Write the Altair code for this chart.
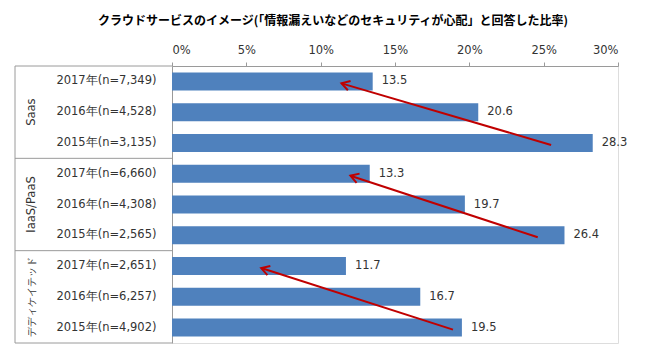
import math
import altair as alt
import pandas as pd

title_text = "クラウドサービスのイメージ(「情報漏えいなどのセキュリティが心配」と回答した比率)"
groups = ["Saas", "IaaS/PaaS", "デディケイテッド"]
rows = [
    "2017年(n=7,349)", "2016年(n=4,528)", "2015年(n=3,135)",
    "2017年(n=6,660)", "2016年(n=4,308)", "2015年(n=2,565)",
    "2017年(n=2,651)", "2016年(n=6,257)", "2015年(n=4,902)",
]
row_group = ["Saas"] * 3 + ["IaaS/PaaS"] * 3 + ["デディケイテッド"] * 3
values = [13.5, 20.6, 28.3, 13.3, 19.7, 26.4, 11.7, 16.7, 19.5]
x_ticks = [0, 5, 10, 15, 20, 25, 30]

# trend arrows (from 2015 to 2017 in each group), in % units
arrow_from_x = [25.5, 24.6, 18.9]
arrow_to_x = [11.4, 12.0, 6.0]
arrow_from_row = [rows[2], rows[5], rows[8]]
arrow_to_row = [rows[0], rows[3], rows[6]]

W, H = 446, 277
XMAX = 30
BAR = "#4F81BD"
RED = "#C00000"
GRAY = "#9A9A9A"
TXT = "#333333"
FONT = "DejaVu Sans"

df = pd.DataFrame({"row": rows, "group": row_group, "value": values})

# arrow angles computed from the data through the pixel scale
px_x = W / XMAX
px_row = H / len(rows)
angles = []
for fx, tx, fr, tr in zip(arrow_from_x, arrow_to_x, arrow_from_row, arrow_to_row):
    dx = (tx - fx) * px_x
    dy = (rows.index(tr) - rows.index(fr)) * px_row
    a = math.degrees(math.atan2(dx, -dy)) % 360
    angles.append(a)
arrows = pd.DataFrame({
    "fx": arrow_from_x, "tx": arrow_to_x,
    "fr": arrow_from_row, "tr": arrow_to_row, "angle": angles,
})

xscale = alt.Scale(domain=[0, XMAX], nice=False, zero=True)
yscale = alt.Scale(domain=rows, paddingInner=0, paddingOuter=0)

base = alt.Chart(df)

bars = base.mark_bar(color=BAR, size=18).encode(
    x=alt.X("value:Q", scale=xscale,
            axis=alt.Axis(orient="top", values=x_ticks, labelExpr="datum.value + '%'",
                          grid=False, tickSize=4, tickColor=GRAY, domainColor=GRAY,
                          labelFont=FONT, labelFontSize=11.5, labelColor=TXT,
                          labelPadding=7, title=None)),
    y=alt.Y("row:N", scale=yscale, sort=None,
            axis=alt.Axis(orient="left", ticks=False, domainColor=GRAY, labelPadding=16,
                          labelFont=FONT, labelFontSize=11.5, labelColor=TXT, title=None)),
)

labels = base.mark_text(align="left", baseline="middle", dx=9, font=FONT,
                        fontSize=11.5, color=TXT).encode(
    x=alt.X("value:Q", scale=xscale),
    y=alt.Y("row:N", scale=yscale, sort=None),
    text=alt.Text("value:Q", format=".1f"),
)

grp_df = pd.DataFrame({"group": groups, "first": [rows[0], rows[3], rows[6]],
                       "mid": [rows[1], rows[4], rows[7]]})
sep_top = alt.Chart(grp_df).mark_rule(color=GRAY, strokeWidth=1).encode(
    x=alt.value(-157), x2=alt.value(0),
    y=alt.Y("first:N", scale=yscale, sort=None, bandPosition=0),
)
sep_bottom = alt.Chart(pd.DataFrame({"last": [rows[-1]]})).mark_rule(color=GRAY, strokeWidth=1).encode(
    x=alt.value(-157), x2=alt.value(0),
    y=alt.Y("last:N", scale=yscale, sort=None, bandPosition=1),
)
left_border = alt.Chart(pd.DataFrame({"k": [0]})).mark_rule(color=GRAY, strokeWidth=1).encode(
    x=alt.value(-157), y=alt.value(0), y2=alt.value(H),
)
grp_text = alt.Chart(grp_df).mark_text(angle=270, align="center", baseline="middle",
                                       font=FONT, color=TXT).encode(
    x=alt.value(-140),
    y=alt.Y("mid:N", scale=yscale, sort=None),
    text="group:N",
    size=alt.condition(alt.datum.group == groups[2], alt.value(9.5), alt.value(11.5)),
)

arrow_line = alt.Chart(arrows).mark_rule(color=RED, strokeWidth=2, yOffset=2, y2Offset=2).encode(
    x=alt.X("fx:Q", scale=xscale), x2="tx:Q",
    y=alt.Y("fr:N", scale=yscale, sort=None), y2="tr:N",
)
arrow_head = alt.Chart(arrows).mark_point(
    shape="M-0.6,1L0,0L0.6,1", filled=False, stroke=RED, strokeWidth=2, size=260,
    yOffset=2, opacity=1,
).encode(
    x=alt.X("tx:Q", scale=xscale),
    y=alt.Y("tr:N", scale=yscale, sort=None),
    angle=alt.Angle("angle:Q", scale=None),
)

title = alt.Chart(pd.DataFrame({"t": [title_text]})).mark_text(
    align="center", baseline="alphabetic", font="Noto Sans CJK JP", fontWeight="bold",
    fontSize=12, color="#000000",
).encode(x=alt.value(161), y=alt.value(-41), text="t:N")

chart = alt.layer(
    bars, labels, sep_top, sep_bottom, left_border, grp_text, arrow_line, arrow_head, title
).properties(
    width=W, height=H,
    autosize=alt.AutoSizeParams(type="none"),
    padding={"left": 164, "top": 58, "right": 39, "bottom": 6},
).configure_view(strokeWidth=0).configure(background="white")

chart.save("out.html", embed_options={"renderer": "svg", "actions": False})
